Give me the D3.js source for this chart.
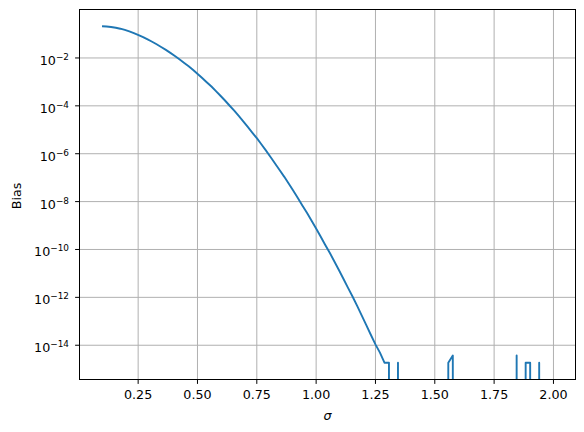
<!DOCTYPE html>
<html>
<head>
<meta charset="utf-8">
<script src="https://cdn.jsdelivr.net/npm/d3@7"></script>
<style>
body{margin:0;background:#fff;}
text{font-family:"DejaVu Sans",sans-serif;fill:#000;}
</style>
</head>
<body>
<script>
var sigma=[0.100,0.119,0.138,0.158,0.177,0.196,0.215,0.234,0.254,0.273,
0.292,0.311,0.330,0.349,0.369,0.388,0.407,0.426,0.445,0.465,
0.484,0.503,0.522,0.541,0.561,0.580,0.599,0.618,0.637,0.657,
0.676,0.695,0.714,0.733,0.753,0.772,0.791,0.810,0.829,0.848,
0.868,0.887,0.906,0.925,0.944,0.964,0.983,1.002,1.021,1.040,
1.060,1.079,1.098,1.117,1.136,1.156,1.175,1.194,1.213,1.232,
1.252,1.271,1.290,1.309,1.328,1.347,1.367,1.386,1.405,1.424,
1.443,1.463,1.482,1.501,1.520,1.539,1.559,1.578,1.597,1.616,
1.635,1.655,1.674,1.693,1.712,1.731,1.751,1.770,1.789,1.808,
1.827,1.847,1.866,1.885,1.904,1.923,1.942,1.962,1.981,2.000];

var bias=[2.00e-1,1.96e-1,1.88e-1,1.75e-1,1.59e-1,1.41e-1,1.22e-1,1.04e-1,8.61e-2,7.05e-2,
5.69e-2,4.53e-2,3.55e-2,2.74e-2,2.08e-2,1.56e-2,1.16e-2,8.41e-3,6.05e-3,4.28e-3,
2.99e-3,2.05e-3,1.39e-3,9.27e-4,6.10e-4,3.95e-4,2.52e-4,1.59e-4,9.86e-5,6.04e-5,
3.64e-5,2.16e-5,1.26e-5,7.29e-6,4.15e-6,2.32e-6,1.28e-6,6.98e-7,3.75e-7,1.98e-7,
1.03e-7,5.30e-8,2.68e-8,1.34e-8,6.56e-9,3.18e-9,1.52e-9,7.13e-10,3.30e-10,1.51e-10,
6.79e-11,3.01e-11,1.32e-11,5.69e-12,2.42e-12,1.01e-12,4.17e-13,1.69e-13,6.79e-14,2.68e-14,
1.04e-14,4.68e-15,1.78e-15,1.78e-15,0,1.78e-15,0,0,0,0,
0,0,0,0,0,0,1.78e-15,3.55e-15,0,0,
0,0,0,0,0,0,0,0,0,0,
0,3.55e-15,0,1.78e-15,1.78e-15,0,1.78e-15,0,0,0];

var xTicks=[0.25,0.5,0.75,1.0,1.25,1.5,1.75,2.0];
var xTickLabels=["0.25","0.50","0.75","1.00","1.25","1.50","1.75","2.00"];
var yTicks=[1e-14,1e-12,1e-10,1e-8,1e-6,1e-4,1e-2];
var yTickExps=["\u221214","\u221212","\u221210","\u22128","\u22126","\u22124","\u22122"];

const margin={top:9.5,left:79.5},
      width=496,
      height=370;

var svg=d3.select("body").append("svg")
.attr("width",584)
.attr("height",432);

var xmin=d3.min(sigma), xmax=d3.max(sigma), xpad=(xmax-xmin)*0.05;
var x=d3.scaleLinear()
.domain([xmin-xpad,xmax+xpad])
.range([margin.left,margin.left+width]);

var pos=bias.filter(b=>b>0);
var lmin=Math.log10(d3.min(pos)), lmax=Math.log10(d3.max(pos)), lpad=(lmax-lmin)*0.05;
var y=d3.scaleLog()
.domain([Math.pow(10,lmin-lpad),Math.pow(10,lmax+lpad)])
.range([margin.top+height,margin.top]);

// grid
svg.append("g")
    .attr("transform","translate(0,"+(margin.top+height)+")")
    .call(d3.axisBottom(x).tickValues(xTicks).tickSize(-height).tickFormat(""))
    .call(g=>g.select(".domain").remove())
    .selectAll("line").attr("stroke","#b0b0b0").attr("stroke-width",1);
svg.append("g")
    .attr("transform","translate("+margin.left+",0)")
    .call(d3.axisLeft(y).tickValues(yTicks).tickSize(-width).tickFormat(""))
    .call(g=>g.select(".domain").remove())
    .selectAll("line").attr("stroke","#b0b0b0").attr("stroke-width",1);

svg.append("clipPath").attr("id","clip")
    .append("rect")
    .attr("x",margin.left).attr("y",margin.top)
    .attr("width",width).attr("height",height);

var pts=sigma.map((s,i)=>({s:s,b:bias[i]}));
var line=d3.line()
    .x(d=>x(d.s))
    .y(d=>y(d.b>0?d.b:1e-300));

svg.append("path")
    .datum(pts)
    .attr("clip-path","url(#clip)")
    .attr("fill","none")
    .attr("stroke","#1f77b4")
    .attr("stroke-width",1.9)
    .attr("stroke-linejoin","round")
    .attr("d",line);

// spines
svg.append("rect")
    .attr("x",margin.left).attr("y",margin.top)
    .attr("width",width).attr("height",height)
    .attr("fill","none").attr("stroke","#000").attr("stroke-width",1);

var xAxis=svg.append("g")
    .attr("transform","translate(0,"+(margin.top+height)+")")
    .call(d3.axisBottom(x).tickValues(xTicks).tickSize(4.4).tickPadding(6.4)
        .tickFormat((d,i)=>xTickLabels[i]));
xAxis.select(".domain").remove();
xAxis.selectAll("text").attr("font-size",12.7).attr("font-family","DejaVu Sans");

var yAxis=svg.append("g")
    .attr("transform","translate("+margin.left+",0)")
    .call(d3.axisLeft(y).tickValues(yTicks).tickSize(4.4).tickFormat(""));
yAxis.select(".domain").remove();
yAxis.selectAll(".tick").each(function(d,i){
    var t=d3.select(this).append("text")
        .attr("x",-10.5)
        .attr("y",7)
        .attr("text-anchor","end")
        .attr("font-family","DejaVu Sans")
        .attr("fill","#000");
    t.append("tspan").attr("font-size",12.7).text("10");
    t.append("tspan").attr("font-size",8.9).attr("dy",-5).text(yTickExps[i]);
});

svg.append("text")
    .attr("x",margin.left+width/2)
    .attr("y",420)
    .attr("text-anchor","middle")
    .attr("font-size",12.7)
    .attr("font-style","italic")
    .text("\u03c3");

svg.append("text")
    .attr("transform","translate(21,196) rotate(-90)")
    .attr("text-anchor","middle")
    .attr("font-size",12.7)
    .text("Bias");
</script>
</body>
</html>
